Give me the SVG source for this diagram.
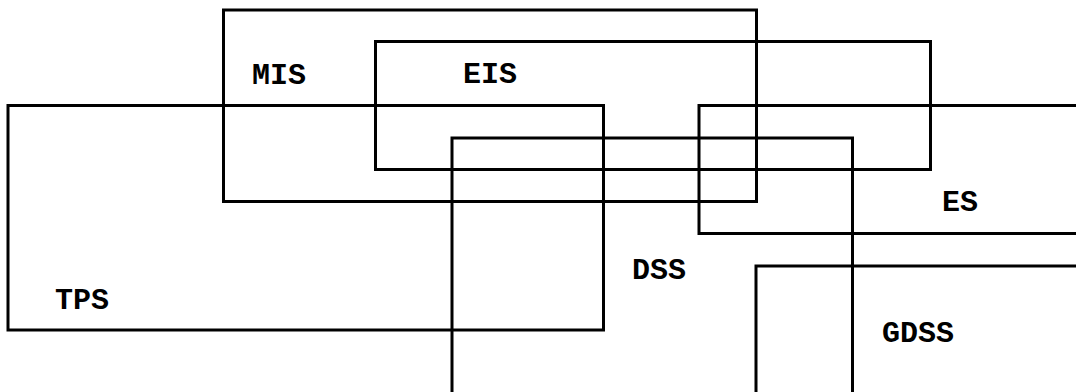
<svg xmlns="http://www.w3.org/2000/svg" width="1076" height="392" viewBox="0 0 1076 392">
<style>
.box{fill:none;stroke:#000;stroke-width:3}
.lbl{font-family:"Liberation Mono","Courier New",monospace;font-weight:bold;font-size:30px;fill:#000}
</style>
<rect width="1076" height="392" fill="#fff"/>
<g id="MIS"><rect class="box" x="223.5" y="10" width="533" height="191.5"/><text class="lbl" x="252" y="84">MIS</text></g>
<g id="EIS"><rect class="box" x="375.5" y="41.5" width="555" height="128"/><text class="lbl" x="463" y="83">EIS</text></g>
<g id="TPS"><rect class="box" x="8" y="105.5" width="595.5" height="224.5"/><text class="lbl" x="55" y="309">TPS</text></g>
<g id="DSS"><path class="box" d="M452,400 V138 H852.5 V400"/><text class="lbl" x="632" y="279">DSS</text></g>
<g id="ES"><path class="box" d="M1080,105.5 H699 V233.5 H1080"/><text class="lbl" x="942" y="211">ES</text></g>
<g id="GDSS"><path class="box" d="M756,400 V266 H1080"/><text class="lbl" x="882" y="342">GDSS</text></g>
<g id="connectors"></g>
</svg>
